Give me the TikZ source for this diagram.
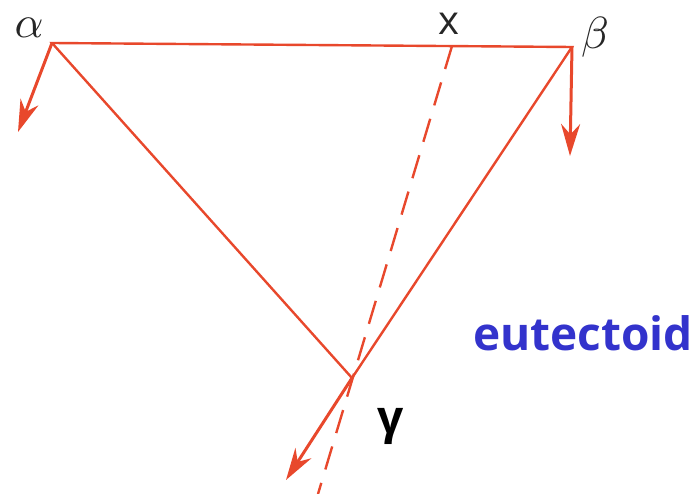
\documentclass[tikz,border=0pt]{standalone}
\usepackage{fontspec}
\setsansfont{Open Sans}
\usepackage{tikz}
\usetikzlibrary{arrows.meta, positioning}
\definecolor{tieline}{RGB}{232,72,44}
\definecolor{labelblue}{RGB}{51,51,204}
\tikzstyle{arrow}=[-{Stealth[length=32pt,width=19pt]}, line width=3pt, color=tieline]

\begin{document}
\begin{tikzpicture}[x=1pt, y=-1pt,
  tie/.style={line width=2.4pt, color=tieline},
  phase/.style={scale=4.5, text=black!85},
  note/.style={font=\sffamily\bfseries\fontsize{46}{50}\selectfont, text=labelblue}
]
\useasboundingbox (0,0) rectangle (694,494);

% Triangle corners
\coordinate (alpha) at (52,43);
\coordinate (beta) at (572,47);
\coordinate (gamma) at (352,378);
\coordinate (comp) at (452,46);

% Tie triangle
\draw[tie, line join=miter] (alpha) -- (beta) -- (gamma) -- cycle;

% Alloy composition
\draw[tie, dashed, dash pattern=on 24pt off 14pt] (comp) -- (318,494);

% Phase arrows
\coordinate (alphaend) at (18,132);
\coordinate (betaend) at (570,156);
\coordinate (gammaend) at (286,480);
\draw[arrow] (alpha) -- (alphaend);
\draw[arrow] (beta) -- (betaend);
\draw[arrow] (gamma) -- (gammaend);

% Labels
\node[phase] (alab) at (29,28) {$\alpha$};
\node[phase] (blab) at (595,37) {$\beta$};
\node[text=black!85, font=\sffamily\fontsize{40}{42}\selectfont] (xlab) at (449,24) {x};
\node[font=\sffamily\bfseries\fontsize{46}{48}\selectfont, text=black] (glab) at (391,426) {γ};
\node[note] (eut) at (583,333) {eutectoid};
\end{tikzpicture}
\end{document}
